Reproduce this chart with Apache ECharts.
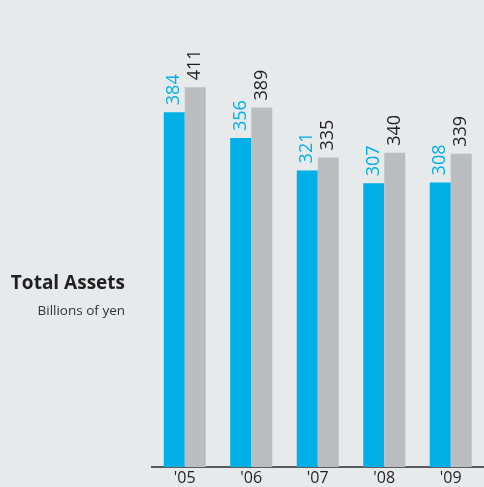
<!DOCTYPE html>
<html>
<head>
<meta charset="utf-8">
<script src="https://cdn.jsdelivr.net/npm/echarts@6/dist/echarts.min.js"></script>
<style>
  html, body { margin: 0; padding: 0; background: #e7eaea; }
  #chart { width: 484px; height: 487px; }
</style>
</head>
<body>
<div id="chart"></div>
<script>
// fiscal years and total assets (billions of yen)
const years = ["'05", "'06", "'07", "'08", "'09"];
const blueValues = [384, 356, 321, 307, 308];
const grayValues = [411, 389, 335, 340, 339];

const chart = echarts.init(document.getElementById('chart'));

const option = {
  backgroundColor: '#e7eaea',
  animation: false,
  title: [
    {
      text: 'Total Assets',
      right: 359,
      top: 274,
      padding: 0,
      textStyle: { fontFamily: 'Open Sans', fontWeight: 'bold', fontSize: 19, color: '#231f20' }
    },
    {
      text: 'Billions of yen',
      right: 359,
      top: 304,
      padding: 0,
      textStyle: { fontFamily: 'Open Sans', fontWeight: 'normal', fontSize: 13.5, color: '#333' }
    }
  ],
  grid: { left: 151.5, top: 5, width: 335, height: 462 },
  xAxis: {
    type: 'category',
    data: years,
    axisLine: { lineStyle: { color: '#2b2b2b', width: 1.5 } },
    axisTick: { show: false },
    axisLabel: { fontFamily: 'Open Sans', fontSize: 16, color: '#231f20', margin: 3 }
  },
  yAxis: {
    type: 'value',
    min: 0,
    max: 500,
    show: false
  },
  series: [
    {
      type: 'bar',
      data: blueValues,
      barWidth: 21,
      barGap: '0%',
      itemStyle: { color: '#00afe6' },
      label: {
        show: true,
        position: 'top',
        rotate: 90,
        align: 'left',
        verticalAlign: 'middle',
        distance: 7,
        fontFamily: 'Open Sans',
        fontSize: 18,
        color: '#00afe6'
      }
    },
    {
      type: 'bar',
      data: grayValues,
      barWidth: 21,
      itemStyle: { color: '#bbbcbf' },
      label: {
        show: true,
        position: 'top',
        rotate: 90,
        align: 'left',
        verticalAlign: 'middle',
        distance: 7,
        fontFamily: 'Open Sans',
        fontSize: 18,
        color: '#231f20'
      }
    }
  ]
};

chart.setOption(option);
</script>
</body>
</html>
